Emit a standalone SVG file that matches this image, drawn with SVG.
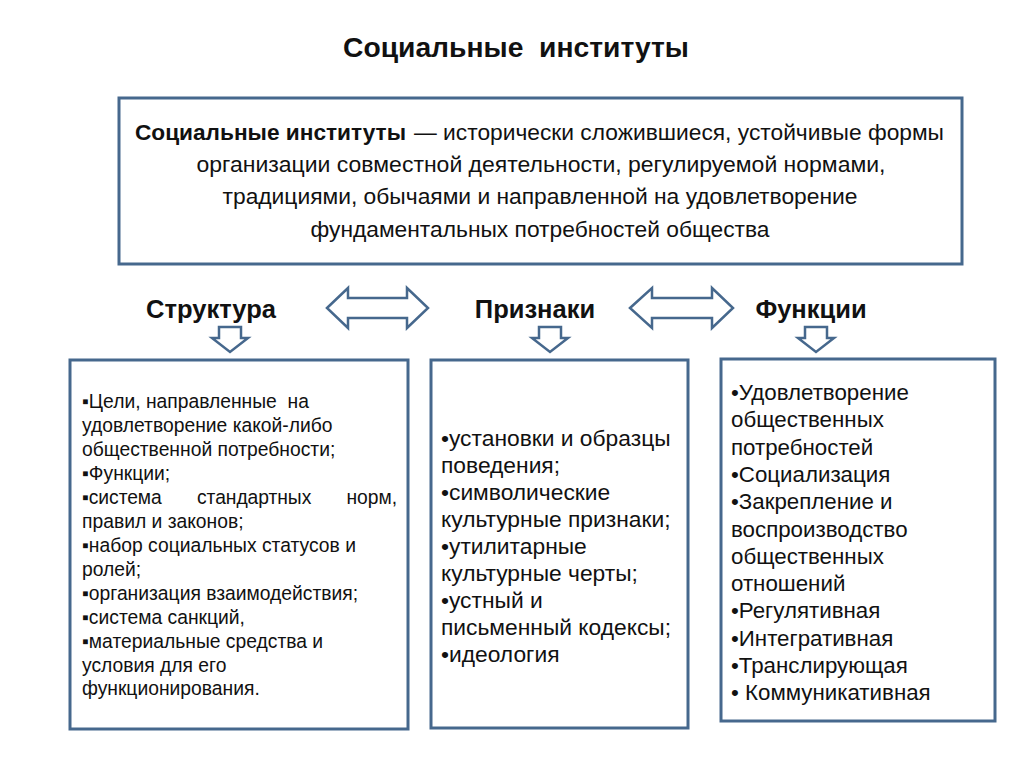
<svg xmlns="http://www.w3.org/2000/svg" width="1024" height="767" viewBox="0 0 1024 767">
<style>
.t{font-family:"Liberation Sans",Arial,sans-serif;fill:#111}
.title{font-size:28px;font-weight:bold}
.hdr{font-size:25.5px;font-weight:bold}
.def{font-size:22.5px}
.l{font-size:19.3px}
.m{font-size:22.8px}
.r{font-size:22.3px}
.box{fill:#fff;stroke:#46688d;stroke-width:3}
.arr{fill:#fff;stroke:#46688d;stroke-width:2.5;stroke-linejoin:miter}
</style>
<rect width="1024" height="767" fill="#fff"/>
<text class="t title" x="343" y="57" textLength="346" lengthAdjust="spacingAndGlyphs" xml:space="preserve">Социальные  институты</text>
<g id="definition">
<rect class="box" x="119" y="98" width="843" height="166"/>
<text class="t def" x="135" y="140" font-weight="bold" textLength="271" lengthAdjust="spacingAndGlyphs">Социальные институты</text>
<text class="t def" x="414" y="140" textLength="530" lengthAdjust="spacingAndGlyphs">— исторически сложившиеся, устойчивые формы</text>
<text class="t def" x="541" y="172" text-anchor="middle" textLength="689" lengthAdjust="spacingAndGlyphs">организации совместной деятельности, регулируемой нормами,</text>
<text class="t def" x="540" y="204" text-anchor="middle" textLength="635" lengthAdjust="spacingAndGlyphs">традициями, обычаями и направленной на удовлетворение</text>
<text class="t def" x="540" y="237" text-anchor="middle" textLength="459" lengthAdjust="spacingAndGlyphs">фундаментальных потребностей общества</text>
</g>
<g id="header-structure"><text class="t hdr" x="211" y="318" text-anchor="middle">Структура</text></g>
<g id="header-signs"><text class="t hdr" x="535" y="318" text-anchor="middle">Признаки</text></g>
<g id="header-functions"><text class="t hdr" x="811" y="318" text-anchor="middle">Функции</text></g>
<g id="connectors">
<polygon class="arr" points="327,308 348,288 348,298 407,298 407,288 428,308 407,328 407,318 348,318 348,328"/>
<polygon class="arr" points="630,308 652,288 652,298 712,298 712,288 733,308 712,328 712,318 652,318 652,328"/>
<polygon class="arr" points="219,327 241,327 241,338 248,338 230,352 212,338 219,338"/>
<polygon class="arr" points="539,327 561,327 561,338 568,338 550,352 532,338 539,338"/>
<polygon class="arr" points="805,327 827,327 827,338 834,338 816,352 798,338 805,338"/>
</g>
<g id="structure">
<rect class="box" x="70" y="360" width="338" height="369"/>
<text class="t l" x="82" y="408" xml:space="preserve">▪Цели, направленные  на</text>
<text class="t l" x="82" y="432">удовлетворение какой-либо</text>
<text class="t l" x="82" y="456">общественной потребности;</text>
<text class="t l" x="82" y="480">▪Функции;</text>
<text class="t l" x="82" y="504" textLength="315" lengthAdjust="spacing" word-spacing="30">▪система стандартных норм,</text>
<text class="t l" x="82" y="528">правил и законов;</text>
<text class="t l" x="82" y="552">▪набор социальных статусов и</text>
<text class="t l" x="82" y="576">ролей;</text>
<text class="t l" x="82" y="600">▪организация взаимодействия;</text>
<text class="t l" x="82" y="624">▪система санкций,</text>
<text class="t l" x="82" y="648">▪материальные средства и</text>
<text class="t l" x="82" y="672">условия для его</text>
<text class="t l" x="82" y="695">функционирования.</text>
</g>
<g id="signs">
<rect class="box" x="431" y="360" width="257" height="368"/>
<text class="t m" x="441" y="446">•установки и образцы</text>
<text class="t m" x="441" y="473">поведения;</text>
<text class="t m" x="441" y="500">•символические</text>
<text class="t m" x="441" y="527">культурные признаки;</text>
<text class="t m" x="441" y="554">•утилитарные</text>
<text class="t m" x="441" y="581">культурные черты;</text>
<text class="t m" x="441" y="608">•устный и</text>
<text class="t m" x="441" y="635">письменный кодексы;</text>
<text class="t m" x="441" y="662">•идеология</text>
</g>
<g id="functions">
<rect class="box" x="721" y="359" width="274" height="362"/>
<text class="t r" x="731" y="400">•Удовлетворение</text>
<text class="t r" x="731" y="427">общественных</text>
<text class="t r" x="731" y="455">потребностей</text>
<text class="t r" x="731" y="482">•Социализация</text>
<text class="t r" x="731" y="509">•Закрепление и</text>
<text class="t r" x="731" y="537">воспроизводство</text>
<text class="t r" x="731" y="564">общественных</text>
<text class="t r" x="731" y="591">отношений</text>
<text class="t r" x="731" y="618">•Регулятивная</text>
<text class="t r" x="731" y="646">•Интегративная</text>
<text class="t r" x="731" y="673">•Транслирующая</text>
<text class="t r" x="731" y="700">• Коммуникативная</text>
</g>
</svg>
